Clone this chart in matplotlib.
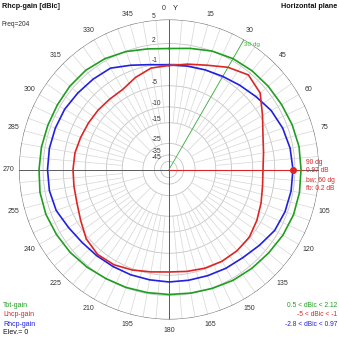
import numpy as np
import matplotlib
matplotlib.use('Agg')
import matplotlib.pyplot as plt

plt.rcParams['font.family'] = ['Liberation Sans', 'DejaVu Sans']

# Azimuth (compass degrees) and gains in dBic
angles = list(range(0, 360, 10))
tot_gain = [1.31, 1.59, 2.01, 2.28, 2.41, 2.48, 2.54, 2.68, 2.81, 2.81,
            2.87, 2.87, 2.74, 2.54, 2.41, 2.28, 2.08, 1.94, 1.87, 1.87,
            1.94, 2.01, 2.21, 2.41, 2.54, 2.68, 2.68, 2.54, 2.48, 2.41,
            2.41, 2.48, 2.48, 2.28, 1.94, 1.52]
lhcp_gain = [-1.29, -0.80, -0.17, 0.88, 1.66, 1.03, -0.64, -1.96, -2.66, -3.02,
             -2.84, -2.31, -1.70, -1.12, -0.96, -0.96, -1.12, -1.37, -1.54, -1.29,
             -0.80, -0.32, -0.17, -0.64, -1.62, -2.31, -2.57, -2.66, -2.75, -3.02,
             -3.20, -3.30, -3.39, -3.30, -2.31, -1.45]
rhcp_gain = [-1.20, -1.12, -0.96, -0.72, -0.32, 0.21, 0.88, 1.31, 1.59, 1.73,
             1.73, 1.66, 1.45, 0.88, 0.44, 0.29, 0.14, 0.06, 0.06, -0.01,
             -0.01, -0.01, 0.06, 0.21, 0.59, 1.17, 1.38, 1.38, 1.38, 1.31,
             1.24, 1.03, 0.88, 0.74, -0.17, -0.88]
ring_levels = [5, 2, -1, -5, -10, -15, -25, -35, -45]
# the 90 label is covered by the cursor readout in the original
angle_labels = [a for a in range(15, 360, 15) if a != 90]
cursor_az = 90
line_az = 30

GREEN = '#1f9e1f'
RED = '#dc2626'
BLUE = '#2020e0'


def rad(db):
    # ARRL log scale: 0.89 per 2 dB, outer ring = 5 dBic
    return 0.89 ** ((5 - np.asarray(db, dtype=float)) / 2)


def px(x, y):
    return x / 339, 1 - y / 339


fig = plt.figure(figsize=(3.39, 3.39), dpi=100)
ax = fig.add_axes([19 / 339, (339 - 319.5) / 339, 300 / 339, 300 / 339], projection='polar')
ax.set_theta_zero_location('N')
ax.set_theta_direction(-1)
ax.set_ylim(0, 1)
ax.grid(False)
ax.set_xticks([])
ax.set_yticks([])
ax.spines['polar'].set_visible(False)
ax.patch.set_alpha(0)

# grid
th = np.linspace(0, 2 * np.pi, 721)
for lvl in ring_levels[1:]:
    ax.plot(th, np.full_like(th, rad(lvl)), color='#c4c4c4', lw=0.6, zorder=1)
ax.plot(th, np.ones_like(th), color='#6e6e6e', lw=0.8, zorder=2)
for a in range(0, 360, 5):
    if a % 90 == 0:
        ax.plot([np.radians(a)] * 2, [0, 1], color='#5a5a5a', lw=0.7, zorder=2)
    else:
        r0 = rad(-25) if a % 15 == 0 else rad(-15)
        ax.plot([np.radians(a)] * 2, [r0, 1], color='#d6d6d6', lw=0.5, zorder=1)

# cursor lines
ax.plot([np.radians(line_az)] * 2, [0, 1], color='#3cb43c', lw=0.6, zorder=3)
ax.plot([np.radians(cursor_az)] * 2, [0, 0.89], color=RED, lw=0.8, zorder=3)

# patterns
th_data = np.radians(angles + [angles[0]])
for vals, col in [(tot_gain, GREEN), (rhcp_gain, BLUE), (lhcp_gain, RED)]:
    ax.plot(th_data, rad(vals + [vals[0]]), color=col, lw=1.2, zorder=4)

i_cur = angles.index(cursor_az)
ax.plot(np.radians(cursor_az), rad(rhcp_gain[i_cur]), 'o', color=RED, ms=4, zorder=5)

# angle labels
for a in angle_labels:
    ax.text(np.radians(a), 1.073, str(a), ha='center', va='center', fontsize=5,
            color='#333333', clip_on=False)
fig.text(*px(164, 9), '0', ha='center', va='center', fontsize=5, color='#333333')
fig.text(*px(175, 9), 'Y', ha='center', va='center', fontsize=5.4, color='#222222')

# ring labels on vertical axis
for lvl in ring_levels:
    y = 169.5 - 150 * rad(lvl) - 3.5
    fig.text(*px(152, y), str(lvl), ha='left', va='center', fontsize=4.8, color='#333333')

ax.text(np.radians(line_az) + 0.015, 0.97, '30 dg', ha='left', va='center', fontsize=4.6,
        color='#3cb43c', clip_on=False)

for i, s in enumerate(['90 dg', '0.97 dB', 'bw: 60 dg', 'fb: 0.2 dB']):
    fig.text(*px(306, 162 + 9 * i), s, ha='left', va='center', fontsize=4.8, color=RED)

# header
fig.text(*px(2, 6), 'Rhcp-gain [dBic]', ha='left', va='center', fontsize=5.2,
         fontweight='bold', color='#111111')
fig.text(*px(2, 24.5), 'Freq=204', ha='left', va='center', fontsize=4.8, color='#333333')
fig.text(*px(337, 6), 'Horizontal plane', ha='right', va='center', fontsize=5.2,
         fontweight='bold', color='#111111')

# legend
fig.text(*px(3, 305.5), 'Tot-gain', ha='left', va='center', fontsize=5, color=GREEN)
fig.text(*px(3, 315), 'Lhcp-gain', ha='left', va='center', fontsize=5, color=RED)
fig.text(*px(3, 324), 'Rhcp-gain', ha='left', va='center', fontsize=5, color=BLUE)
fig.text(*px(3, 333), 'Elev.= 0', ha='left', va='center', fontsize=5, color='#111111')
fig.text(*px(337, 305.5), '0.5 < dBic < 2.12', ha='right', va='center', fontsize=4.8, color=GREEN)
fig.text(*px(337, 315), '-5 < dBic < -1', ha='right', va='center', fontsize=4.8, color=RED)
fig.text(*px(337, 324), '-2.8 < dBic < 0.97', ha='right', va='center', fontsize=4.8, color=BLUE)

fig.savefig('out.png', dpi=100, facecolor='white')
